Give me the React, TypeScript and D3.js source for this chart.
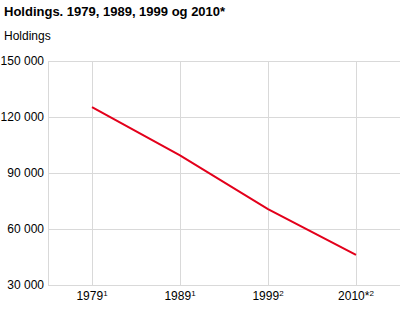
import * as d3 from "d3";
import { useEffect, useRef } from "react";

const years = ["1979", "1989", "1999", "2010*"];
const notes = ["1", "1", "2", "2"];
const holdings = [125300, 99400, 70700, 46100];
const yTicks = [30000, 60000, 90000, 120000, 150000];

const FONT = "'Liberation Sans', Arial, sans-serif";

function App() {
  const ref = useRef<SVGSVGElement>(null);

  useEffect(() => {
    const svg = d3.select(ref.current);
    svg.selectAll("*").remove();

    const left = 48,
      right = 400,
      top = 61,
      bottom = 285;

    const locale = d3.formatLocale({
      decimal: ",",
      thousands: " ",
      grouping: [3],
      currency: ["", ""],
    });
    const fmt = locale.format(",");

    const x = d3.scaleBand().domain(years).range([left, right]);
    const y = d3.scaleLinear().domain([30000, 150000]).range([bottom, top]);
    const cx = (d: string) => (x(d) ?? 0) + x.bandwidth() / 2;

    // title
    svg
      .append("text")
      .attr("x", 4)
      .attr("y", 16)
      .style("font-family", FONT)
      .style("font-size", "13px")
      .style("font-weight", "bold")
      .style("fill", "#000")
      .text("Holdings. 1979, 1989, 1999 og 2010*");

    svg
      .append("text")
      .attr("x", 4)
      .attr("y", 40)
      .style("font-family", FONT)
      .style("font-size", "12px")
      .style("fill", "#000")
      .text("Holdings");

    // horizontal grid
    svg
      .append("g")
      .selectAll("line")
      .data(yTicks)
      .join("line")
      .attr("x1", left)
      .attr("x2", right)
      .attr("y1", (d) => y(d) + 0.5)
      .attr("y2", (d) => y(d) + 0.5)
      .attr("stroke", "#d9d9d9")
      .attr("stroke-width", 1);

    // vertical grid
    svg
      .append("g")
      .selectAll("line")
      .data(years)
      .join("line")
      .attr("x1", (d) => Math.round(cx(d)) + 0.5)
      .attr("x2", (d) => Math.round(cx(d)) + 0.5)
      .attr("y1", top)
      .attr("y2", bottom)
      .attr("stroke", "#d9d9d9")
      .attr("stroke-width", 1);

    // left edge
    svg
      .append("line")
      .attr("x1", left + 0.5)
      .attr("x2", left + 0.5)
      .attr("y1", top)
      .attr("y2", bottom)
      .attr("stroke", "#d9d9d9");

    // y labels
    svg
      .append("g")
      .selectAll("text")
      .data(yTicks)
      .join("text")
      .attr("x", 44)
      .attr("y", (d) => y(d) + 4)
      .attr("text-anchor", "end")
      .style("font-family", FONT)
      .style("font-size", "12px")
      .style("fill", "#000")
      .text((d) => fmt(d));

    // x labels with superscript notes
    const xl = svg
      .append("g")
      .selectAll("text")
      .data(years)
      .join("text")
      .attr("x", (d) => cx(d))
      .attr("y", 300)
      .attr("text-anchor", "middle")
      .style("font-family", FONT)
      .style("font-size", "12px")
      .style("fill", "#000");
    xl.append("tspan").text((d) => d);
    xl.append("tspan")
      .attr("dy", -4)
      .style("font-size", "8px")
      .text((d, i) => notes[i]);

    // line
    const line = d3
      .line<number>()
      .x((d, i) => cx(years[i]))
      .y((d) => y(d));

    svg
      .append("path")
      .datum(holdings)
      .attr("d", line)
      .attr("fill", "none")
      .attr("stroke", "#e3001b")
      .attr("stroke-width", 2);
  }, []);

  return (
    <svg
      ref={ref}
      width={400}
      height={320}
      style={{ position: "absolute", left: 0, top: 0, background: "#fff" }}
    />
  );
}

export default App;
